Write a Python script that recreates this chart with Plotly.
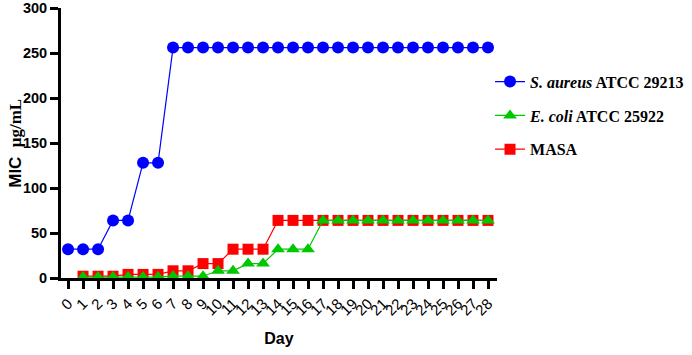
import plotly.graph_objects as go

days = list(range(0, 29))
s_aureus = [32, 32, 32, 64, 64, 128, 128] + [256] * 22
e_coli = [None, 1, 1, 1, 1, 1, 1, 2, 2, 2, 8, 8, 16, 16, 32, 32, 32] + [64] * 12
masa = [None, 2, 2, 2, 4, 4, 4, 8, 8, 16, 16, 32, 32, 32] + [64] * 15

names = ["<i>S. aureus</i> ATCC 29213", "<i>E. coli</i> ATCC 25922", "MASA"]
y_ticks = [0, 50, 100, 150, 200, 250, 300]
y_title = "<b>MIC  <span style='font-family:Liberation Serif'>μg/mL</span></b>"

fig = go.Figure()
fig.add_trace(go.Scatter(x=days, y=masa, mode="lines+markers", name=names[2],
                         line=dict(color="#FF0000", width=1.2),
                         marker=dict(symbol="square", size=11, color="#FF0000"),
                         legendgroup="c", legendrank=3))
fig.add_trace(go.Scatter(x=days, y=e_coli, mode="lines+markers", name=names[1],
                         line=dict(color="#00C800", width=1.2),
                         marker=dict(symbol="triangle-up", size=12, color="#00C800"),
                         legendgroup="b", legendrank=2))
fig.add_trace(go.Scatter(x=days, y=s_aureus, mode="lines+markers", name=names[0],
                         line=dict(color="#0000FF", width=1.2),
                         marker=dict(symbol="circle", size=12, color="#0000FF"),
                         legendgroup="a", legendrank=1))

fig.update_layout(
    width=692, height=355,
    margin=dict(l=61, r=195, t=8, b=77, autoexpand=False),
    paper_bgcolor="white", plot_bgcolor="white",
    showlegend=True,
    legend=dict(x=0.984, y=0.79, xanchor="left", yanchor="top",
                font=dict(family="Liberation Serif", size=16, color="black", weight="bold"),
                tracegroupgap=10, itemwidth=30, bgcolor="rgba(0,0,0,0)"),
    xaxis=dict(range=[-0.47, 28.6], tickmode="array", tickvals=days, automargin=False,
               ticktext=[str(d) for d in days], tickangle=-45,
               ticks="outside", ticklen=8, tickwidth=2.5, tickcolor="black",
               showline=True, linewidth=3, linecolor="black", showgrid=False, zeroline=False,
               tickfont=dict(family="Liberation Sans", size=15, color="black"),
               title=dict(text="<b>Day</b>", font=dict(family="Liberation Sans", size=16, color="black"),
                          standoff=16)),
    yaxis=dict(range=[0, 300], tickmode="array", tickvals=y_ticks, automargin=False,
               ticktext=["<b>%d</b>" % v for v in y_ticks], ticklabeloverflow="allow",
               ticks="outside", ticklen=8, tickwidth=3, tickcolor="black",
               showline=True, linewidth=3, linecolor="black", showgrid=False, zeroline=False,
               tickfont=dict(family="Liberation Sans", size=14.5, color="black")),
    annotations=[dict(text=y_title, xref="paper", yref="paper", x=-0.106, y=0.5,
                      xanchor="center", yanchor="middle", textangle=-90, showarrow=False,
                      font=dict(family="Liberation Sans", size=17, color="black"))],
)

fig.write_html("out.html", config={"displayModeBar": False},
               post_script="document.body.style.margin='0';")
